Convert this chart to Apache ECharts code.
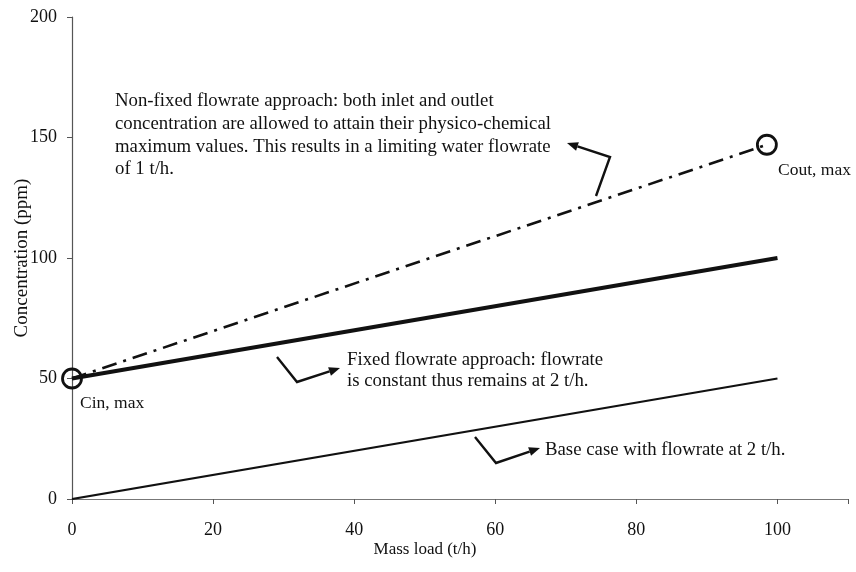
<!DOCTYPE html>
<html>
<head>
<meta charset="utf-8">
<script src="https://cdn.jsdelivr.net/npm/echarts@6/dist/echarts.min.js"></script>
<style>
  html, body { margin: 0; padding: 0; background: #fff; }
  #chart { width: 856px; height: 572px; }
</style>
</head>
<body>
<div id="chart"></div>
<script>
// data
const massLoad = [0, 100]
const baseCase = [0, 50]          // flowrate 2 t/h
const fixedFlow = [50, 100]       // fixed flowrate approach
const nonFixedLoad = [0, 98.5]
const nonFixedConc = [50, 147]    // non-fixed flowrate approach
const cinMax = [0, 50]
const coutMax = [98.5, 147]
const xTicks = [0, 20, 40, 60, 80, 100]
const yTicks = [0, 50, 100, 150, 200]

const font = '"Liberation Serif", "Times New Roman", serif'

function pairs(xs, ys) {
  return xs.map((x, i) => [x, ys[i]])
}

// bent annotation arrow: polyline plus a filled head on the last segment
function arrow(pts) {
  const a = pts[pts.length - 2], b = pts[pts.length - 1]
  const ang = Math.atan2(b[1] - a[1], b[0] - a[0])
  const len = 11, w = 4.5
  const bx = b[0] - len * Math.cos(ang), by = b[1] - len * Math.sin(ang)
  const head = [
    b,
    [bx + w * Math.sin(ang), by - w * Math.cos(ang)],
    [bx - w * Math.sin(ang), by + w * Math.cos(ang)]
  ]
  const line = pts.slice(0, -1).concat([[bx, by]])
  return [
    { type: 'polyline', shape: { points: line }, style: { stroke: '#111', lineWidth: 2.4, fill: null } },
    { type: 'polygon', shape: { points: head }, style: { fill: '#111' } }
  ]
}

function label(x, y, lines, lh, size) {
  return {
    type: 'text', x: x, y: y,
    style: { text: lines.join('\n'), font: (size || 18.8) + 'px ' + font, fill: '#111', lineHeight: lh || 22.7 }
  }
}

const myChart = echarts.init(document.getElementById('chart'))

let option = {
  animation: false,
  grid: { left: 72, right: 8, top: 17, bottom: 73, containLabel: false, outerBoundsMode: 'none' },
  xAxis: {
    type: 'value',
    min: 0, max: 110, interval: 20,
    name: 'Mass load (t/h)',
    nameLocation: 'middle',
    nameGap: 42,
    nameMoveOverlap: false,
    nameTextStyle: { fontFamily: font, fontSize: 17, color: '#111', padding: [0, 70, 0, 0] },
    axisLine: { lineStyle: { color: '#777', width: 1 } },
    axisTick: { show: true, length: 5, lineStyle: { color: '#555' } },
    axisLabel: {
      margin: 22, fontFamily: font, fontSize: 18, color: '#111',
      formatter: v => xTicks.includes(v) ? String(v) : ''
    },
    splitLine: { show: false }
  },
  yAxis: {
    type: 'value',
    min: 0, max: 200, interval: 50,
    name: 'Concentration (ppm)',
    nameLocation: 'middle',
    nameGap: 40,
    nameMoveOverlap: false,
    nameTextStyle: { fontFamily: font, fontSize: 19, color: '#111' },
    axisLine: { show: true, lineStyle: { color: '#555', width: 1.2 } },
    axisTick: { show: true, length: 5, lineStyle: { color: '#555' } },
    axisLabel: {
      margin: 15, fontFamily: font, fontSize: 18, color: '#111',
      formatter: v => yTicks.includes(v) ? String(v) : ''
    },
    splitLine: { show: false }
  },
  series: [
    {
      name: 'Base case', type: 'line', symbol: 'none',
      data: pairs(massLoad, baseCase),
      lineStyle: { color: '#111', width: 2.2 }
    },
    {
      name: 'Fixed flowrate', type: 'line', symbol: 'none',
      data: pairs(massLoad, fixedFlow),
      lineStyle: { color: '#111', width: 4 }
    },
    {
      name: 'Non-fixed flowrate', type: 'line', symbol: 'none',
      data: pairs(nonFixedLoad, nonFixedConc),
      lineStyle: { color: '#111', width: 2.6, type: [15, 7, 3, 7] }
    },
    {
      name: 'Limits', type: 'scatter', symbol: 'circle', symbolSize: 19,
      data: [cinMax, coutMax],
      itemStyle: { color: 'rgba(255,255,255,0)', borderColor: '#111', borderWidth: 2.8, opacity: 1 },
      z: 5
    }
  ],
  graphic: [
    label(115, 90, [
      'Non-fixed flowrate approach: both inlet and outlet',
      'concentration are allowed to attain their physico-chemical',
      'maximum values. This results in a limiting water flowrate',
      'of 1 t/h.'
    ]),
    label(347, 349, [
      'Fixed flowrate approach: flowrate',
      'is constant thus remains at 2 t/h.'
    ], 21.5),
    label(545, 439, ['Base case with flowrate at 2 t/h.']),
    label(778, 160, ['Cout, max'], 20, 17.5),
    label(80, 393, ['Cin, max'], 20, 17.5)
  ]
    .concat(arrow([[596, 196], [610, 157], [567, 143]]))
    .concat(arrow([[277, 357], [297, 382], [340, 368]]))
    .concat(arrow([[475, 437], [496, 463], [540, 448]]))
}

myChart.setOption(option)
</script>
</body>
</html>
